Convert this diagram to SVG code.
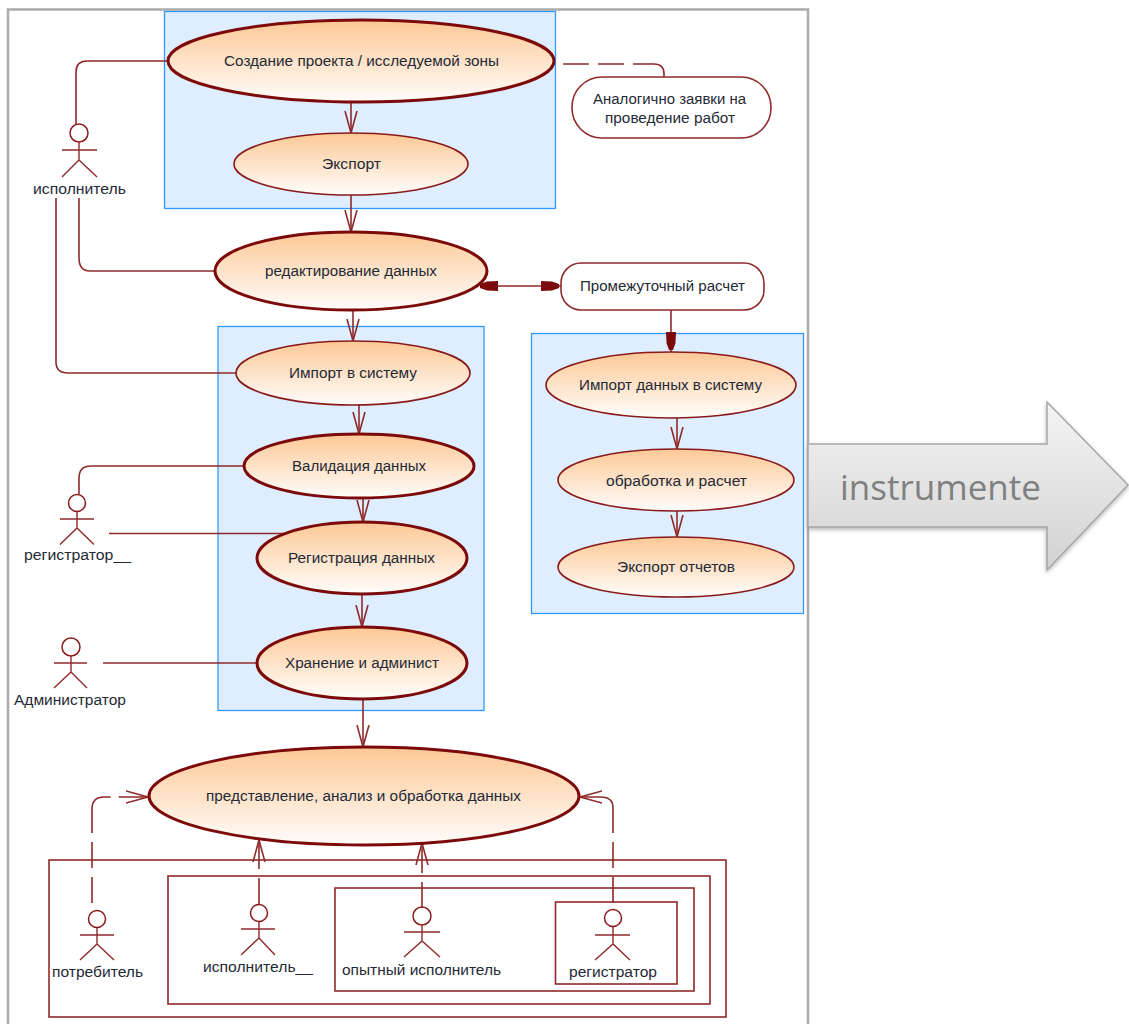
<svg xmlns="http://www.w3.org/2000/svg" width="1129" height="1024" viewBox="0 0 1129 1024">
<style>
text{font-family:"Liberation Sans",Arial,sans-serif;font-size:14px;fill:#1f2a36;text-anchor:middle}
.box{fill:#deeeff;stroke:#3399ff;stroke-width:1.3}
.frame{fill:none;stroke:#8f2a2a;stroke-width:1.6}
.u{fill:url(#g);stroke:#8a1a1a;stroke-width:1.6}
.t{fill:url(#g);stroke:#7d0a0a;stroke-width:3}
.n{fill:#fff;stroke:#8f2a2a;stroke-width:1.6}
.c{fill:none;stroke:#8f2a2a;stroke-width:1.6}
.d{fill:none;stroke:#8f2a2a;stroke-width:1.6;stroke-dasharray:26 9}
.o{marker-end:url(#open)}
.a circle{fill:#fff;stroke:#8a1a1a;stroke-width:1.5}
.a path{fill:none;stroke:#8f2a2a;stroke-width:1.4}
</style>
<defs>
<linearGradient id="g" x1="0" y1="0" x2="0" y2="1"><stop offset="0" stop-color="#fdc896"/><stop offset="1" stop-color="#fffdfb"/></linearGradient>
<linearGradient id="ar" x1="0" y1="0" x2="0" y2="1"><stop offset="0" stop-color="#f4f4f4"/><stop offset="1" stop-color="#d2d2d2"/></linearGradient>
<filter id="sh" x="-5%" y="-5%" width="110%" height="115%"><feDropShadow dx="0" dy="2" stdDeviation="2" flood-color="#888" flood-opacity=".6"/></filter>
<marker id="open" markerUnits="userSpaceOnUse" markerWidth="26" markerHeight="16" refX="22" refY="8" orient="auto"><path d="M0,2L22,8L0,14" fill="none" stroke="#8f2a2a" stroke-width="1.6"/></marker>
<marker id="fill" markerUnits="userSpaceOnUse" markerWidth="24" markerHeight="16" refX="20" refY="8" orient="auto"><path d="M0,3L11,3.500L18,6V10L11,12.500L0,13Z" fill="#7d0a0a"/></marker>
<marker id="fillS" markerUnits="userSpaceOnUse" markerWidth="24" markerHeight="16" refX="0" refY="8" orient="auto"><path d="M18,3L7,3.500L0,6V10L7,12.500L18,13Z" fill="#7d0a0a"/></marker>
</defs>
<rect width="1129" height="1024" fill="#fff"/>
<path d="M8,1030V9.500H808V1030" fill="none" stroke="#ababab" stroke-width="2.500"/>
<g id="zones">
<rect class="box" x="164.500" y="11.500" width="391" height="197"/>
<rect class="box" x="218" y="326.500" width="266" height="384"/>
<rect class="box" x="531.500" y="333.500" width="272" height="280"/>
</g>
<g id="frames">
<rect class="frame" x="49" y="860" width="677" height="157"/>
<rect class="frame" x="168" y="876" width="542" height="128"/>
<rect class="frame" x="335" y="888" width="359" height="103"/>
<rect class="frame" x="555.500" y="902" width="121.500" height="82"/>
</g>
<g id="connectors">
<path class="c" d="M76,125V72Q76,61 87,61H168"/>
<path class="c" d="M79,198V258Q79,271 90,271H215"/>
<path class="c" d="M56,198V362Q56,373 68,373H236"/>
<path class="c" d="M79,494V478Q79,466 91,466H244"/>
<path class="c" d="M109,533.500H285"/>
<path class="c" d="M103,663H257"/>
<path class="c o" d="M351,102V133"/>
<path class="c o" d="M351,195V232"/>
<path class="c o" d="M353,310V341"/>
<path class="c o" d="M359,405V434"/>
<path class="c o" d="M363,498V522"/>
<path class="c o" d="M362,594V627"/>
<path class="c o" d="M363,700V747"/>
<path class="c o" d="M677,418V449"/>
<path class="c o" d="M677,511V537"/>
<path class="c" d="M671,310V352" marker-end="url(#fill)"/>
<path class="c" d="M480,286H561" marker-start="url(#fillS)" marker-end="url(#fill)"/>
<path class="d" style="stroke-dasharray:26 9 26 9 60" d="M563,64H654Q664,64 664,74V77"/>
<path class="d o" style="stroke-dasharray:26 9 26 9 50 8 40" d="M92,903V809Q92,797 104,797H148"/>
<path class="d o" style="stroke-dasharray:26 9 26 9 100" d="M613,903V808Q613,797 601,797H580"/>
<path class="d o" d="M259,904V840"/>
<path class="d o" d="M422,908V843"/>
</g>
<g id="uc-create"><ellipse class="t" cx="361" cy="61" rx="193" ry="41"/><text x="361.500" y="66" textLength="275" lengthAdjust="spacingAndGlyphs">Создание проекта / исследуемой зоны</text></g>
<g id="uc-export"><ellipse class="u" cx="351" cy="164" rx="117" ry="31"/><text x="351.500" y="169" textLength="59" lengthAdjust="spacingAndGlyphs">Экспорт</text></g>
<g id="uc-edit"><ellipse class="t" cx="351" cy="271" rx="136" ry="39"/><text x="351" y="276" textLength="172" lengthAdjust="spacingAndGlyphs">редактирование данных</text></g>
<g id="uc-import"><ellipse class="u" cx="353" cy="373" rx="117" ry="32"/><text x="353" y="378" textLength="128" lengthAdjust="spacingAndGlyphs">Импорт в систему</text></g>
<g id="uc-valid"><ellipse class="t" cx="359" cy="466" rx="115" ry="32"/><text x="359" y="471" textLength="134" lengthAdjust="spacingAndGlyphs">Валидация данных</text></g>
<g id="uc-reg"><ellipse class="t" cx="362" cy="558" rx="105" ry="36"/><text x="361.500" y="563" textLength="147" lengthAdjust="spacingAndGlyphs">Регистрация данных</text></g>
<g id="uc-store"><ellipse class="t" cx="362" cy="663" rx="105" ry="36"/><text x="362" y="668" textLength="154" lengthAdjust="spacingAndGlyphs">Хранение и админист</text></g>
<g id="uc-present"><ellipse class="t" cx="364" cy="796" rx="215" ry="49"/><text x="363.500" y="801" textLength="315" lengthAdjust="spacingAndGlyphs">представление, анализ и обработка данных</text></g>
<g id="uc-import2"><ellipse class="u" cx="671" cy="385" rx="125" ry="33"/><text x="670.500" y="390" textLength="183" lengthAdjust="spacingAndGlyphs">Импорт данных в систему</text></g>
<g id="uc-calc"><ellipse class="u" cx="676" cy="480" rx="118" ry="31"/><text x="676.500" y="486" textLength="141" lengthAdjust="spacingAndGlyphs">обработка и расчет</text></g>
<g id="uc-report"><ellipse class="u" cx="676" cy="567" rx="118" ry="30"/><text x="676" y="572" textLength="118" lengthAdjust="spacingAndGlyphs">Экспорт отчетов</text></g>
<g id="note"><rect class="n" x="572" y="77" width="199" height="61" rx="30"/><text x="669.500" y="104" textLength="153" lengthAdjust="spacingAndGlyphs">Аналогично заявки на</text><text x="670" y="123" textLength="130" lengthAdjust="spacingAndGlyphs">проведение работ</text></g>
<g id="interim"><rect class="n" x="561" y="263" width="203" height="47" rx="20"/><text x="662.500" y="291" textLength="165" lengthAdjust="spacingAndGlyphs">Промежуточный расчет</text></g>
<g id="actor1" class="a"><circle cx="79" cy="133" r="9"/><path d="M79,142V160M62,150H97M62,177L79,160L97,177"/><text x="79.500" y="194" textLength="93" lengthAdjust="spacingAndGlyphs">исполнитель</text></g>
<g id="actor2" class="a"><circle cx="77" cy="503" r="8.500"/><path d="M77,512V528M60,519H94M60,544.500L77,528L94,544.500"/><text x="77.500" y="560" textLength="107" lengthAdjust="spacingAndGlyphs">регистратор__</text></g>
<g id="actor3" class="a"><circle cx="71" cy="647" r="9"/><path d="M71,656V672M54,663H87M54,688L71,672L87,688"/><text x="70" y="705" textLength="112" lengthAdjust="spacingAndGlyphs">Администратор</text></g>
<g id="actor4" class="a"><circle cx="97" cy="919" r="8.500"/><path d="M97,928V944M80,935H114M80,960L97,944L114,960"/><text x="97.500" y="977" textLength="91" lengthAdjust="spacingAndGlyphs">потребитель</text></g>
<g id="actor5" class="a"><circle cx="259" cy="913" r="8.500"/><path d="M259,922V938M241,929H275M241,955L259,938L275,955"/><text x="258" y="972" textLength="110" lengthAdjust="spacingAndGlyphs">исполнитель__</text></g>
<g id="actor6" class="a"><circle cx="422" cy="916" r="9"/><path d="M422,925V941M404,932H440M404,957L422,941L440,957"/><text x="421.500" y="975" textLength="159" lengthAdjust="spacingAndGlyphs">опытный исполнитель</text></g>
<g id="actor7" class="a"><circle cx="613" cy="918" r="8.500"/><path d="M613,927V944M595,935H630M595,960L613,944L630,960"/><text x="613" y="977" textLength="88" lengthAdjust="spacingAndGlyphs">регистратор</text></g>
<g id="arrow"><path d="M808,444H1047V402L1128,485L1047,570V527H808Z" fill="url(#ar)" stroke="#a8a8a8" stroke-width="1.500" filter="url(#sh)"/><text x="940.500" y="500" textLength="201" lengthAdjust="spacingAndGlyphs" style="font-family:'Open Sans',sans-serif;font-size:34px;fill:#808080">instrumente</text></g>
</svg>
